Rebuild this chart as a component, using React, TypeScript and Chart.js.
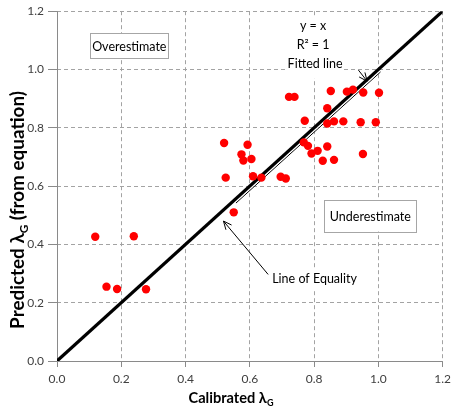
import React, { useEffect, useRef } from 'react';
import { Chart, registerables } from 'chart.js';

Chart.register(...registerables);

// ---- data ----
const calibrated = [
  0.119, 0.239, 0.154, 0.187, 0.277, 0.520, 0.593, 0.574, 0.580, 0.525,
  0.550, 0.605, 0.610, 0.636, 0.696, 0.712, 0.722, 0.739, 0.771, 0.768,
  0.781, 0.792, 0.811, 0.841, 0.827, 0.862, 0.952, 0.841, 0.841, 0.862,
  0.891, 0.945, 0.992, 0.852, 0.902, 0.921, 0.953, 1.002,
];
const predicted = [
  0.426, 0.428, 0.255, 0.247, 0.246, 0.748, 0.742, 0.709, 0.688, 0.629,
  0.510, 0.693, 0.634, 0.629, 0.632, 0.626, 0.906, 0.906, 0.824, 0.750,
  0.738, 0.712, 0.721, 0.736, 0.687, 0.690, 0.710, 0.867, 0.815, 0.822,
  0.822, 0.819, 0.819, 0.926, 0.924, 0.931, 0.921, 0.920,
];
const equalityX = [0, 1.2];
const equalityY = [0, 1.2];
const fittedX = [0.55, 1.0];
const fittedY = [0.55, 1.0];
const tickValues = [0, 0.2, 0.4, 0.6, 0.8, 1.0, 1.2];

const FONT = 'Lato, "Open Sans", "DejaVu Sans", sans-serif';

type Seg = { t: string; sub?: boolean };

function segFont(seg: Seg, size: number, weight: string) {
  const s = seg.sub ? size * 0.62 : size;
  return `${weight} ${s}px ${FONT}`;
}
function richWidth(ctx: CanvasRenderingContext2D, segs: Seg[], size: number, weight: string) {
  let w = 0;
  for (const s of segs) {
    ctx.font = segFont(s, size, weight);
    w += ctx.measureText(s.t).width;
  }
  return w;
}
function fitSize(ctx: CanvasRenderingContext2D, segs: Seg[], target: number, weight: string) {
  const w = richWidth(ctx, segs, 100, weight);
  return (100 * target) / w;
}
function drawRich(ctx: CanvasRenderingContext2D, segs: Seg[], size: number, weight: string) {
  const total = richWidth(ctx, segs, size, weight);
  let x = -total / 2;
  ctx.textAlign = 'left';
  ctx.textBaseline = 'alphabetic';
  for (const s of segs) {
    ctx.font = segFont(s, size, weight);
    ctx.fillText(s.t, x, s.sub ? size * 0.22 : 0);
    x += ctx.measureText(s.t).width;
  }
}

function drawArrow(ctx: CanvasRenderingContext2D, x1: number, y1: number, x2: number, y2: number) {
  ctx.beginPath();
  ctx.moveTo(x1, y1);
  ctx.lineTo(x2, y2);
  const a = Math.atan2(y2 - y1, x2 - x1);
  const L = 9;
  const sp = 0.42;
  ctx.moveTo(x2 - L * Math.cos(a - sp), y2 - L * Math.sin(a - sp));
  ctx.lineTo(x2, y2);
  ctx.lineTo(x2 - L * Math.cos(a + sp), y2 - L * Math.sin(a + sp));
  ctx.stroke();
}

const offsetPlugin = {
  id: 'offsetLines',
  beforeDatasetsDraw(chart: any) {
    // solid axis lines over the dashed grid
    const { ctx, scales } = chart;
    const X0 = Math.round(scales.x.getPixelForValue(0)) + 0.5;
    const Y0 = Math.round(scales.y.getPixelForValue(0)) + 0.5;
    ctx.save();
    ctx.strokeStyle = '#8a8a8a';
    ctx.lineWidth = 1;
    ctx.setLineDash([]);
    ctx.beginPath();
    ctx.moveTo(X0, scales.y.getPixelForValue(1.2));
    ctx.lineTo(X0, Y0);
    ctx.lineTo(scales.x.getPixelForValue(1.2), Y0);
    ctx.stroke();
    ctx.restore();
  },
  beforeDatasetDraw(chart: any, args: any) {
    const off = chart.data.datasets[args.index].pixelOffset;
    if (off) {
      chart.ctx.save();
      chart.ctx.translate(off[0], off[1]);
    }
  },
  afterDatasetDraw(chart: any, args: any) {
    const off = chart.data.datasets[args.index].pixelOffset;
    if (off) chart.ctx.restore();
  },
};

const annotationPlugin = {
  id: 'annotations',
  afterDraw(chart: any) {
    const { ctx, scales } = chart;
    const xs = scales.x;
    const ys = scales.y;
    const px = (v: number) => xs.getPixelForValue(v);
    const py = (v: number) => ys.getPixelForValue(v);
    ctx.save();

    const txtFont = `normal 12.5px ${FONT}`;
    const box = (label: string, cx: number, cy: number, w: number, h: number) => {
      const X = px(cx), Y = py(cy);
      ctx.fillStyle = '#ffffff';
      ctx.fillRect(X - w / 2, Y - h / 2, w, h);
      ctx.strokeStyle = '#a6a6a6';
      ctx.lineWidth = 1;
      ctx.strokeRect(Math.round(X - w / 2) + 0.5, Math.round(Y - h / 2) + 0.5, w, h);
      ctx.fillStyle = '#000';
      ctx.font = txtFont;
      ctx.textAlign = 'center';
      ctx.textBaseline = 'middle';
      ctx.fillText(label, X, Y + 1);
    };
    box('Overestimate', 0.225, 1.082, 78, 25);
    box('Underestimate', 0.975, 0.499, 92, 32);

    ctx.fillStyle = '#ffffff';
    ctx.fillRect(px(0.714), py(1.183), px(0.889) - px(0.714), py(0.97) - py(1.183));
    ctx.fillStyle = '#000';
    ctx.font = txtFont;
    ctx.textAlign = 'center';
    ctx.textBaseline = 'middle';
    ctx.fillText('y = x', px(0.797), py(1.149));
    ctx.fillText('R² = 1', px(0.797), py(1.084));
    ctx.fillText('Fitted line', px(0.803), py(1.019));

    const lw = ctx.measureText('Line of Equality').width;
    ctx.fillStyle = '#ffffff';
    ctx.fillRect(px(0.8015) - lw / 2 - 2, py(0.28) - 10, lw + 4, 20);
    ctx.fillStyle = '#000';
    ctx.fillText('Line of Equality', px(0.8015), py(0.28));

    ctx.strokeStyle = '#000';
    ctx.lineWidth = 1;
    drawArrow(ctx, px(0.657), py(0.297), px(0.518), py(0.48));
    drawArrow(ctx, px(0.938), py(0.998), px(0.965), py(0.96));

    ctx.fillStyle = '#000';
    const xt: Seg[] = [{ t: 'Calibrated ' }, { t: 'λ' }, { t: 'G', sub: true }];
    const xs2 = fitSize(ctx, xt, 85, 'bold');
    ctx.save();
    ctx.translate(231, 403);
    drawRich(ctx, xt, xs2, 'bold');
    ctx.restore();

    const yt: Seg[] = [{ t: 'Predicted ' }, { t: 'λ' }, { t: 'G', sub: true }, { t: ' (from equation)' }];
    const ys2 = fitSize(ctx, yt, 238, 'bold');
    ctx.save();
    ctx.translate(24, 210);
    ctx.rotate(-Math.PI / 2);
    drawRich(ctx, yt, ys2, 'bold');
    ctx.restore();

    ctx.restore();
  },
};

export default function App() {
  const ref = useRef<HTMLCanvasElement>(null);
  useEffect(() => {
    if (!ref.current) return;
    const gridColor = '#a3a3a3';
    const makeAxis = (isX: boolean) => ({
      type: 'linear' as const,
      min: 0,
      max: 1.2,
      afterBuildTicks: (s: any) => {
        s.ticks = tickValues.map((v) => ({ value: v }));
      },
      afterFit: (s: any) => {
        if (isX) s.height = 53;
        else s.width = 57;
      },
      ticks: {
        callback: (v: any) => Number(v).toFixed(1),
        color: '#404040',
        font: { family: FONT, size: 12 },
        padding: isX ? 5 : 4,
        maxRotation: 0,
      },
      grid: {
        color: gridColor,
        lineWidth: 1,
        tickLength: isX ? 6 : 9,
        tickColor: '#8a8a8a',
      },
      border: {
        display: false,
        dash: [4, 3],
      },
    });

    const chart = new Chart(ref.current, {
      type: 'scatter',
      data: {
        datasets: [
          {
            label: 'Data',
            data: calibrated.map((c, i) => ({ x: c, y: predicted[i] })),
            backgroundColor: '#ff0000',
            borderColor: '#ff0000',
            pointRadius: 4.2,
            pointBorderWidth: 0,
            order: 0,
          },
          {
            label: 'Line of Equality',
            type: 'line',
            data: equalityX.map((v, i) => ({ x: v, y: equalityY[i] })),
            borderColor: '#000',
            borderWidth: 3.2,
            pointRadius: 0,
            fill: false,
            order: 1,
          },
          {
            label: 'Fitted line (white)',
            type: 'line',
            data: fittedX.map((v, i) => ({ x: v, y: fittedY[i] })),
            borderColor: '#ffffff',
            borderWidth: 1.2,
            pointRadius: 0,
            fill: false,
            order: 2,
            pixelOffset: [1.4, 1.5],
          } as any,
          {
            label: 'Fitted line',
            type: 'line',
            data: fittedX.map((v, i) => ({ x: v, y: fittedY[i] })),
            borderColor: '#000',
            borderWidth: 1,
            pointRadius: 0,
            fill: false,
            order: 3,
            pixelOffset: [2.2, 2.4],
          } as any,
        ],
      },
      options: {
        animation: false,
        responsive: true,
        maintainAspectRatio: false,
        layout: { padding: { left: 0, top: 10, right: 9, bottom: 0 } },
        plugins: { legend: { display: false }, tooltip: { enabled: false } },
        scales: { x: makeAxis(true), y: makeAxis(false) } as any,
      },
      plugins: [offsetPlugin, annotationPlugin],
    });
    return () => chart.destroy();
  }, []);

  return (
    <div style={{ position: 'fixed', left: 0, top: 0, width: 456, height: 414, background: '#fff' }}>
      <canvas ref={ref} />
    </div>
  );
}
